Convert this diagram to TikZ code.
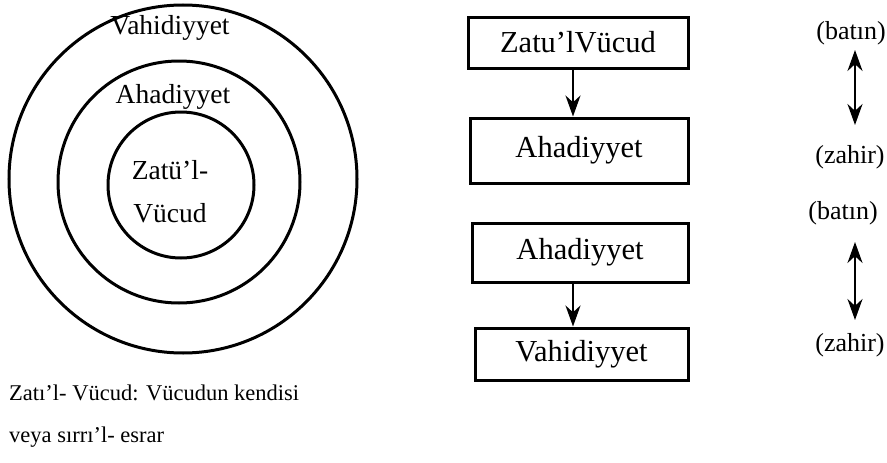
\documentclass[tikz,border=0pt]{standalone}
\usepackage{fontspec}
\setmainfont{Liberation Serif}
\usetikzlibrary{arrows.meta}
\newcommand\circfont{\fontsize{27.5}{43}\selectfont}
\newcommand\boxfont{\fontsize{30.5}{32}\selectfont}
\newcommand\sidefont{\fontsize{26}{28}\selectfont}
\newcommand\capfont{\fontsize{22.5}{26}\selectfont}
\tikzset{
  ring/.style={draw, circle, line width=3pt, inner sep=0pt},
  stepbox/.style={draw, line width=3pt, inner sep=0pt, font=\boxfont},
  flow/.style={line width=2.4pt, -{Stealth[length=21pt,width=15pt]}},
  dbl/.style={line width=2.4pt, {Stealth[length=21pt,width=15pt]}-{Stealth[length=21pt,width=15pt]}},
  lbl/.style={inner sep=0pt}
}
\begin{document}
\begin{tikzpicture}[x=1pt,y=-1pt]
\useasboundingbox (0,0) rectangle (887,463);
% concentric circles
\node[ring, minimum size=348pt] (outer) at (183,179) {};
\node[ring, minimum size=242pt] (middle) at (179,182) {};
\node[ring, minimum size=146pt] (inner) at (181,185) {};
\node[lbl, font=\circfont] (tvah) at (170,28) {Vahidiyyet};
\node[lbl, font=\circfont] (tahad) at (173,97) {Ahadiyyet};
\node[lbl, font=\circfont, align=center] (tzat) at (170,192) {Zatü'l-\\Vücud};
% caption
\node[lbl, font=\capfont, anchor=west] (cap1) at (9,393) {Zatı'l- Vücud: Vücudun kendisi};
\node[lbl, font=\capfont, anchor=west] (cap2) at (9,437) {veya sırrı'l- esrar};
% boxes
\node[stepbox, minimum width=220pt, minimum height=51pt] (b1) at (578,42.5) {Zatu'lVücud};
\node[stepbox, minimum width=218pt, minimum height=65pt] (b2) at (579,150.5) {Ahadiyyet};
\node[stepbox, minimum width=216pt, minimum height=59pt] (b3) at (580,252.5) {Ahadiyyet};
\node[stepbox, minimum width=213pt, minimum height=52pt] (b4) at (581.5,354) {Vahidiyyet};
\draw[flow] (b1.south -| 573,0) -- (b2.north -| 573,0);
\draw[flow] (b3.south -| 573,0) -- (b4.north -| 573,0);
% side labels
\node[lbl, font=\sidefont] (bt1) at (851,33) {(batın)};
\node[lbl, font=\sidefont] (zh1) at (850,157) {(zahir)};
\node[lbl, font=\sidefont] (bt2) at (843,213) {(batın)};
\node[lbl, font=\sidefont] (zh2) at (850,345) {(zahir)};
\draw[dbl] ([yshift=-5pt]bt1.south -| 855,0) -- ([yshift=20pt]zh1.north -| 855,0);
\draw[dbl] ([yshift=-17pt]bt2.south -| 855,0) -- ([yshift=13pt]zh2.north -| 855,0);
\end{tikzpicture}
\end{document}
